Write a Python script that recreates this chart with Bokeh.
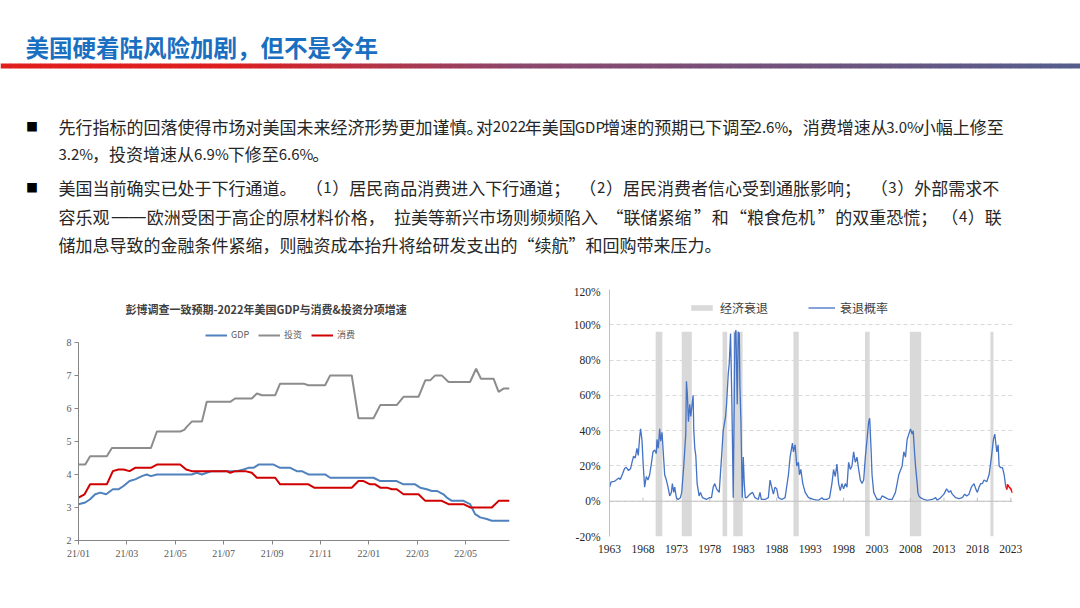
import numpy as np
from bokeh.plotting import figure
from bokeh.layouts import column, row
from bokeh.models import Range1d, FixedTicker, Legend, LegendItem, PrintfTickFormatter, Span
from bokeh.core.properties import value
from bokeh.embed import file_html
from bokeh.resources import INLINE

# ---------------- page text ----------------
page_title = "美国硬着陆风险加剧，但不是今年"
bullet_lines = [
    "先行指标的回落使得市场对美国未来经济形势更加谨慎。对2022年美国GDP增速的预期已下调至2.6%，消费增速从3.0%小幅上修至",
    "3.2%，投资增速从6.9%下修至6.6%。",
    "美国当前确实已处于下行通道。（1）居民商品消费进入下行通道；（2）居民消费者信心受到通胀影响；（3）外部需求不",
    "容乐观——欧洲受困于高企的原材料价格，拉美等新兴市场则频频陷入“联储紧缩”和“粮食危机”的双重恐慌；（4）联",
    "储加息导致的金融条件紧缩，则融资成本抬升将给研发支出的“续航”和回购带来压力。",
]
bullet_marks = [True, False, True, False, False]
line_justified = [True, False, True, True, False]

# ---------------- left chart data ----------------
left_title = "彭博调查一致预期-2022年美国GDP与消费&投资分项增速"
month_tick_labels = ["21/01", "21/03", "21/05", "21/07", "21/09", "21/11", "22/01", "22/03", "22/05"]
# x = months since 2021/01
gdp_m = [0, 0.28, 0.48, 0.69, 0.90, 1.14, 1.42, 1.65, 1.86, 2.11, 2.34, 2.62, 2.82, 2.99, 3.24, 4.68,
         4.89, 5.10, 5.30, 5.51, 6.27, 6.54, 6.82, 7.02, 7.23, 7.44, 8.06, 8.33, 8.75, 9.02, 9.23, 9.50,
         10.19, 10.40, 12.19, 12.47, 13.15, 13.43, 13.91, 14.12, 14.39, 14.60, 14.81, 15.08, 15.22,
         15.43, 15.91, 16.18, 16.39, 16.60, 16.87, 17.08, 17.81]
gdp_v = [3.1, 3.15, 3.25, 3.4, 3.45, 3.4, 3.55, 3.55, 3.65, 3.8, 3.85, 3.95, 4.0, 3.95, 4.0, 4.0,
         4.05, 4.0, 4.05, 4.1, 4.1, 4.1, 4.15, 4.2, 4.2, 4.3, 4.3, 4.2, 4.2, 4.1, 4.1, 4.0,
         4.0, 3.9, 3.9, 3.8, 3.8, 3.7, 3.7, 3.6, 3.55, 3.5, 3.5, 3.4, 3.3,
         3.2, 3.2, 3.1, 2.8, 2.7, 2.65, 2.6, 2.6]
inv_m = [0, 0.28, 0.48, 1.17, 1.38, 2.99, 3.24, 4.20, 4.37, 4.48, 4.68, 5.10, 5.30, 6.27, 6.47, 7.16,
         7.37, 7.58, 8.13, 8.33, 9.30, 9.50, 10.19, 10.40, 11.29, 11.57, 12.19, 12.47, 13.15, 13.43,
         14.05, 14.33, 14.53, 14.74, 15.01, 15.29, 16.18, 16.43, 16.63, 17.15, 17.36, 17.56, 17.81]
inv_v = [4.3, 4.3, 4.55, 4.55, 4.8, 4.8, 5.3, 5.3, 5.35, 5.45, 5.6, 5.6, 6.2, 6.2, 6.3, 6.3,
         6.45, 6.4, 6.4, 6.75, 6.75, 6.7, 6.7, 7.0, 7.0, 5.7, 5.7, 6.1, 6.1, 6.35,
         6.35, 6.85, 6.85, 7.0, 7.0, 6.8, 6.8, 7.2, 6.9, 6.9, 6.5, 6.6, 6.6]
con_m = [0, 0.25, 0.48, 1.17, 1.42, 1.65, 1.86, 2.11, 2.34, 2.99, 3.24, 4.20, 4.45, 4.68, 6.13, 6.27,
         6.47, 6.89, 7.16, 7.37, 8.13, 8.33, 9.50, 9.74, 11.29, 11.57, 11.78, 12.05, 12.26, 12.47,
         12.74, 12.95, 13.15, 13.43, 14.05, 14.33, 15.01, 15.29, 15.91, 16.18, 17.08, 17.36, 17.81]
con_v = [3.3, 3.4, 3.7, 3.7, 4.1, 4.15, 4.15, 4.1, 4.2, 4.2, 4.3, 4.3, 4.15, 4.1, 4.1, 4.05,
         4.1, 4.1, 4.05, 3.9, 3.9, 3.7, 3.7, 3.6, 3.6, 3.8, 3.8, 3.7, 3.7, 3.6,
         3.6, 3.55, 3.55, 3.4, 3.4, 3.2, 3.2, 3.1, 3.1, 3.0, 3.0, 3.2, 3.2]

# ---------------- right chart data ----------------
year_ticks = [1963, 1968, 1973, 1978, 1983, 1988, 1993, 1998, 2003, 2008, 2013, 2018, 2023]
rec_start = [1969.9, 1973.8, 1979.9, 1981.5, 1990.5, 2001.2, 2007.9, 2019.95]
rec_end = [1970.9, 1975.3, 1980.6, 1982.9, 1991.3, 2001.9, 2009.6, 2020.4]
prob_year = [1963.0, 1963.25, 1963.75, 1964.1, 1964.4, 1964.6, 1964.9, 1965.25, 1965.5, 1965.85, 1966.15,
             1966.4, 1966.6, 1966.85, 1967.1, 1967.3, 1967.5, 1967.65, 1967.85, 1968.05, 1968.25, 1968.5,
             1968.75, 1969.0, 1969.25, 1969.5, 1969.75, 1970.0, 1970.1, 1970.3, 1970.5, 1970.65, 1970.85,
             1971.0, 1971.25, 1971.5, 1971.75, 1972.0, 1972.25, 1972.4, 1972.6, 1972.75, 1973.0, 1973.25,
             1973.6, 1973.8, 1974.1, 1974.4, 1974.5, 1974.65, 1974.8, 1975.0, 1975.15, 1975.5, 1975.6,
             1975.75, 1975.9, 1976.1, 1976.4, 1976.6, 1976.9, 1977.5, 1977.9, 1978.25, 1978.5, 1978.75,
             1979.0, 1979.4, 1979.75, 1980.0, 1980.35, 1980.5, 1980.75, 1980.9, 1981.1, 1981.2, 1981.3,
             1981.5, 1981.75, 1981.9, 1982.1, 1982.25, 1982.4, 1982.5, 1982.65, 1982.85, 1983.0, 1983.15,
             1983.3, 1983.5, 1984.0, 1984.4, 1984.75, 1985.25, 1985.5, 1985.7, 1986.25, 1986.75, 1987.0,
             1987.25, 1987.5, 1987.75, 1988.0, 1988.25, 1988.75, 1989.25, 1989.75, 1990.0, 1990.35, 1990.5,
             1990.75, 1991.0, 1991.25, 1991.4, 1991.6, 1991.9, 1992.25, 1992.75, 1993.5, 1994.25, 1994.75,
             1995.0, 1995.5, 1995.9, 1996.25, 1996.5, 1996.75, 1997.0, 1997.25, 1997.5, 1997.75, 1998.0,
             1998.25, 1998.5, 1998.75, 1999.0, 1999.25, 1999.5, 1999.75, 2000.0, 2000.25, 2000.5, 2000.75,
             2001.0, 2001.25, 2001.5, 2001.75, 2001.9, 2002.1, 2002.25, 2002.5, 2002.75, 2003.0, 2003.5,
             2003.75, 2004.25, 2004.75, 2005.25, 2005.75, 2006.25, 2006.75, 2007.0, 2007.25, 2007.5,
             2007.75, 2008.0, 2008.25, 2008.4, 2008.6, 2008.75, 2009.0, 2009.1, 2009.25, 2009.5, 2010.0,
             2010.5, 2011.25, 2011.75, 2012.0, 2012.5, 2012.75, 2013.0, 2013.4, 2013.75, 2014.0, 2014.25,
             2014.75, 2015.25, 2015.75, 2016.1, 2016.4, 2016.75, 2017.1, 2017.5, 2017.75, 2018.0, 2018.25,
             2018.5, 2018.75, 2019.0, 2019.4, 2019.75, 2020.1, 2020.4, 2020.6, 2020.75, 2020.9, 2021.1,
             2021.25, 2021.5, 2021.75, 2022.0, 2022.25, 2022.4]
prob_value = [7.9, 11, 11.3, 12.3, 13.2, 12.3, 15, 18.5, 19.2, 17.4, 18.5,
              22.6, 25.5, 24.5, 30, 26, 36, 41, 35, 20, 8, 14,
              12, 15, 21, 28, 29, 27, 35, 30, 41, 34, 39,
              30, 15, 12, 8, 3, 5, 10, 5, 8, 2, 1,
              2, 5, 20, 38, 68, 60, 45, 55, 48, 60, 40,
              30, 26, 10, 3, 5, 2, 1, 2, 2, 8, 10,
              7, 5, 25, 40, 48, 55, 72, 78, 95, 75, 55,
              2, 95, 97, 55, 96, 95, 65, 45, 2, 25, 10,
              2, 2, 4, 5, 2, 1, 5, 1, 1, 2, 12,
              8, 4, 8, 7, 2, 1, 2, 15, 25, 33, 28,
              32, 20, 22, 15, 18, 10, 5, 2, 1, 0.5, 2,
              1, 1, 2, 10, 18, 14, 21, 10, 6, 10, 7,
              10, 8, 22, 18, 20, 28, 22, 25, 18, 12, 10,
              12, 25, 35, 45, 47, 30, 15, 5, 3, 1, 1,
              3, 2, 1, 1, 5, 15, 20, 28, 25, 35,
              38, 41, 38, 40, 28, 20, 10, 5, 3, 2, 1,
              0.5, 1, 2, 0.5, 2, 3, 4, 7, 5, 6, 4,
              2, 1.5, 2, 4, 3, 4, 8, 10, 7, 5, 8,
              10, 10, 12, 11, 15, 25, 35, 38, 33, 28, 32,
              20, 19, 19, 15, 8, 6.6]
fcst_year = [2022.4, 2022.5, 2022.75, 2023.0, 2023.25]
fcst_value = [6.6, 9.5, 8, 7, 4.7]

CJK = "Noto Sans CJK SC"

# ---------------- header ----------------
HH = 285
head = figure(width=1080, height=HH, x_range=Range1d(0, 1080), y_range=Range1d(HH, 0),
              toolbar_location=None, output_backend="svg", min_border=0,
              x_axis_type=None, y_axis_type=None, outline_line_color=None)
head.grid.visible = False

head.text(x=[25], y=[46.5], text=[page_title], text_font=value(CJK), text_font_style="bold",
          text_font_size="23.5px", text_color="#1a6fc0", text_baseline="middle", text_align="left")

# gradient rule under the title
stops_x = [0, 230, 520, 1080]
stops_c = [(226, 30, 30), (220, 32, 34), (140, 72, 110), (85, 95, 140)]
edges = np.linspace(0, 1080, 109)
mids = (edges[:-1] + edges[1:]) / 2
cols = []
for m in mids:
    rgb = [int(np.interp(m, stops_x, [c[k] for c in stops_c])) for k in range(3)]
    cols.append("#%02x%02x%02x" % tuple(rgb))
head.quad(left=edges[:-1], right=edges[1:] + 0.5, top=63, bottom=68, fill_color=cols, line_color=None)

# ---- body text: justified lines laid out in chunks ----
FS = 17.0      # CJK characters
LFS = 15.0     # latin runs (digits, GDP, %)
TEXT_X0, TEXT_X1 = 58, 1002
line_y = [125.5, 153, 186.5, 215.5, 244]


def is_latin(c):
    return c in "0123456789.%" or ("A" <= c <= "Z")


def char_w(c):
    if c in "0123456789":
        return 0.55 * LFS
    if c == ".":
        return 0.27 * LFS
    if c == "%":
        return 0.87 * LFS
    if c in "GD":
        return 0.68 * LFS
    if c == "P":
        return 0.6 * LFS
    return FS


out = {}


def emit(kind, latin, t, x, y):
    key = (kind, latin)
    out.setdefault(key, ([], [], []))
    out[key][0].append(t)
    out[key][1].append(x)
    out[key][2].append(y)


for s, y, just in zip(bullet_lines, line_y, line_justified):
    widths = [char_w(c) for c in s]
    natural = sum(widths)
    extra = (TEXT_X1 - TEXT_X0 - natural) / (len(s) - 1) if just else 0.0
    xs_c = [TEXT_X0 + sum(widths[:i]) + extra * i for i in range(len(s))]
    cur, cur_x, cur_lat = "", None, False
    i = 0
    while i < len(s):
        c = s[i]
        if c in "“”—":
            if cur:
                emit("left", cur_lat, cur, cur_x, y)
                cur, cur_x = "", None
            if c == "“":
                nxt = xs_c[i + 1] if i + 1 < len(s) else xs_c[i] + widths[i]
                emit("right", False, c, nxt, y)
                i += 1
            elif c == "”":
                emit("left", False, c, xs_c[i], y)
                i += 1
            else:
                j = i
                while j < len(s) and s[j] == "—":
                    j += 1
                x_mid = (xs_c[i] + xs_c[j - 1] + widths[j - 1]) / 2
                emit("dash", False, s[i:j], x_mid, y)
                i = j
            continue
        lat = is_latin(c)
        if cur and (c == "（" or lat != cur_lat):
            emit("left", cur_lat, cur, cur_x, y)
            cur, cur_x = "", None
        if cur_x is None:
            cur_x, cur_lat = xs_c[i], lat
        cur += c
        if c in "。，；":
            emit("left", cur_lat, cur, cur_x, y)
            cur, cur_x = "", None
        i += 1
    if cur:
        emit("left", cur_lat, cur, cur_x, y)

for (kind, latin), (t, x, yy) in out.items():
    if kind == "dash":
        head.text(x=x, y=yy, text=t, text_align="center", text_font=value("Liberation Sans"),
                  text_font_size="%gpx" % FS, text_color="#262626", text_baseline="middle")
    else:
        head.text(x=x, y=yy, text=t, text_align=kind, text_font=value(CJK),
                  text_font_size="%gpx" % (LFS if latin else FS), text_color="#262626",
                  text_baseline="middle")

by = [y for y, b in zip(line_y, bullet_marks) if b]
head.text(x=[31.5] * len(by), y=by, text=["■"] * len(by), text_font=value(CJK),
          text_font_size="12px", text_color="#000000", text_baseline="middle", text_align="center")

# ---------------- left chart ----------------
p1 = figure(width=545, height=323, x_range=Range1d(0, 17.81), y_range=Range1d(2, 8.42),
            toolbar_location=None, output_backend="svg",
            min_border_left=78, min_border_right=36, min_border_top=43, min_border_bottom=68,
            outline_line_color=None)
p1.title.text = left_title
p1.title.align = "left"
p1.title.offset = 47
p1.title.standoff = 24
p1.title.text_font = CJK
p1.title.text_font_size = "11px"
p1.title.text_font_style = "bold"
p1.title.text_color = "#404040"
p1.grid.visible = False

r_gdp = p1.line(gdp_m, gdp_v, color="#4f81bd", line_width=2)
r_inv = p1.line(inv_m, inv_v, color="#8c8c8c", line_width=2)
r_con = p1.line(con_m, con_v, color="#d00000", line_width=2)

tick_pos = [2 * i for i in range(len(month_tick_labels))]
p1.xaxis.ticker = FixedTicker(ticks=tick_pos)
p1.xaxis.major_label_overrides = {t: lab for t, lab in zip(tick_pos, month_tick_labels)}
p1.yaxis.ticker = FixedTicker(ticks=[2, 3, 4, 5, 6, 7, 8])
p1.yaxis.bounds = (2, 8)
for ax in (p1.xaxis, p1.yaxis):
    ax.axis_line_color = "#868686"
    ax.major_tick_line_color = "#868686"
    ax.major_tick_in = 0
    ax.major_tick_out = 4
    ax.minor_tick_line_color = None
    ax.major_label_text_font = "Liberation Sans Narrow"
    ax.major_label_text_font_size = "10px"
    ax.major_label_text_color = "#595959"
    ax.major_label_standoff = 3

leg1 = Legend(items=[LegendItem(label="GDP", renderers=[r_gdp]),
                     LegendItem(label="投资", renderers=[r_inv]),
                     LegendItem(label="消费", renderers=[r_con])],
              orientation="horizontal", location=(127, 199),
              glyph_width=22, glyph_height=10, label_height=10, label_standoff=4, spacing=7,
              padding=0, margin=0, border_line_color=None, background_fill_alpha=0,
              label_text_font=CJK, label_text_font_size="9px", label_text_color="#595959")
p1.add_layout(leg1)

# ---------------- right chart ----------------
p2 = figure(width=535, height=323, x_range=Range1d(1963, 2023.25), y_range=Range1d(-20, 120),
            toolbar_location=None, output_backend="svg",
            min_border_left=64, min_border_right=68, min_border_top=4, min_border_bottom=72,
            outline_line_color=None)
p2.xgrid.visible = False
p2.ygrid.grid_line_color = "#d9d9d9"
p2.ygrid.grid_line_dash = "4 3"
p2.yaxis.ticker = FixedTicker(ticks=[-20, 0, 20, 40, 60, 80, 100, 120])
p2.yaxis.formatter = PrintfTickFormatter(format="%d%%")
p2.xaxis.ticker = FixedTicker(ticks=year_ticks)
p2.yaxis.axis_line_color = "#bfbfbf"
p2.xaxis.axis_line_color = None
for ax in (p2.xaxis, p2.yaxis):
    ax.major_tick_line_color = None
    ax.minor_tick_line_color = None
    ax.major_tick_out = 0
    ax.major_tick_in = 0
    ax.major_label_text_font = "Liberation Serif"
    ax.major_label_text_font_size = "11.5px"
    ax.major_label_text_color = "#262626"
p2.yaxis.major_label_standoff = 9
p2.xaxis.major_label_standoff = 8

r_rec = p2.quad(left=rec_start, right=rec_end, bottom=-20, top=96, fill_color="#d9d9d9", line_color=None)
p2.add_layout(Span(location=0, dimension="width", line_color="#bfbfbf", line_width=1))
p2.segment(x0=year_ticks, y0=[0] * len(year_ticks), x1=year_ticks, y1=[2] * len(year_ticks),
           line_color="#bfbfbf", line_width=1)
r_prob = p2.line(prob_year, prob_value, color="#4472c4", line_width=1.3)
p2.line(fcst_year, fcst_value, color="#ff0000", line_width=1.5)

leg2 = Legend(items=[LegendItem(label="经济衰退", renderers=[r_rec]),
                     LegendItem(label="衰退概率", renderers=[r_prob])],
              orientation="horizontal", location=(79, 220),
              glyph_width=27, glyph_height=7, label_height=12, label_standoff=5, spacing=40,
              padding=0, margin=0, border_line_color=None, background_fill_alpha=0,
              label_text_font=CJK, label_text_font_size="12px", label_text_color="#404040")
p2.add_layout(leg2)

layout = column(head, row(column(p1), p2))
open("out.html", "w").write(file_html(layout, INLINE))
